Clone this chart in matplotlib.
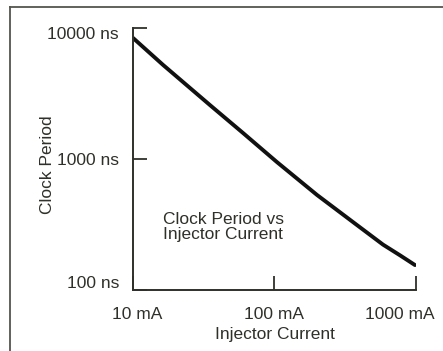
# -*- coding: utf-8 -*-
# clock period of the injector-driven oscillator against injector current (log-log)

import numpy as np
import matplotlib
matplotlib.use("Agg")
import matplotlib.pyplot as plt
import matplotlib.transforms as mtransforms
from matplotlib.lines import Line2D
from matplotlib.ticker import NullLocator

plt.rcParams['font.family'] = ['Liberation Sans', 'DejaVu Sans']

# curve
current_mA = [10, 16.3, 35, 60, 104, 200, 383, 585, 771, 984]
period_ns = [8400, 5230, 2580, 1578, 948, 531, 313, 222, 184, 155]

x_ticks = [10, 100, 1000]
x_tick_labels = ['10 mA', '100 mA', '1000 mA']
y_ticks = [100, 1000, 10000]
y_tick_labels = ['100 ns', '1000 ns', '10000 ns']

ink = '#30302a'

fig = plt.figure(figsize=(4.43, 3.51), dpi=100)
ax = fig.add_axes([0.3002, 0.1738, 0.6388, 0.7464])

ax.plot(current_mA, period_ns, color='#111111', lw=2.8,
        solid_capstyle='round', solid_joinstyle='round')

ax.set_xscale('log')
ax.set_yscale('log')
ax.set_xlim(10, 1000)
ax.set_ylim(100, 10000)

ax.set_xticks(x_ticks)
ax.set_xticklabels(x_tick_labels)
ax.set_yticks(y_ticks)
ax.set_yticklabels(y_tick_labels)
ax.xaxis.set_minor_locator(NullLocator())
ax.yaxis.set_minor_locator(NullLocator())

ax.tick_params(direction='in', length=9.8, width=1.3, color=ink,
               labelsize=12.5, labelcolor=ink)
ax.tick_params(axis='x', pad=12)
ax.tick_params(axis='y', pad=10)

for side in ['top', 'right']:
    ax.spines[side].set_visible(False)
for side in ['left', 'bottom']:
    ax.spines[side].set_color(ink)
    ax.spines[side].set_linewidth(1.4)

# nudge end labels so they sit inside the plot box
xl = ax.get_xticklabels()
xl[0].set_transform(xl[0].get_transform() +
                    mtransforms.ScaledTranslation(0.04, 0, fig.dpi_scale_trans))
xl[-1].set_transform(xl[-1].get_transform() +
                     mtransforms.ScaledTranslation(-0.16, 0, fig.dpi_scale_trans))
yl = ax.get_yticklabels()
yl[0].set_transform(yl[0].get_transform() +
                    mtransforms.ScaledTranslation(0, 0.08, fig.dpi_scale_trans))
yl[-1].set_transform(yl[-1].get_transform() +
                     mtransforms.ScaledTranslation(0, -0.05, fig.dpi_scale_trans))

ax.set_xlabel('Injector Current', fontsize=12.5, color=ink, labelpad=4)
ax.set_ylabel('Clock Period', fontsize=12.5, color=ink)
ax.yaxis.set_label_coords(-0.275, 0.48)

ax.text(0.105, 0.24, 'Clock Period vs\nInjector Current', transform=ax.transAxes,
        fontsize=12.5, color=ink, ha='left', va='center', linespacing=0.95)

# box rule on top and left of the panel
fig.add_artist(Line2D([0.0226, 1.0], [0.980, 0.980], transform=fig.transFigure,
                      color='#55554f', lw=1.3))
fig.add_artist(Line2D([0.0226, 0.0226], [0.0, 0.980], transform=fig.transFigure,
                      color='#55554f', lw=1.3))

fig.savefig('out.png', dpi=100)
